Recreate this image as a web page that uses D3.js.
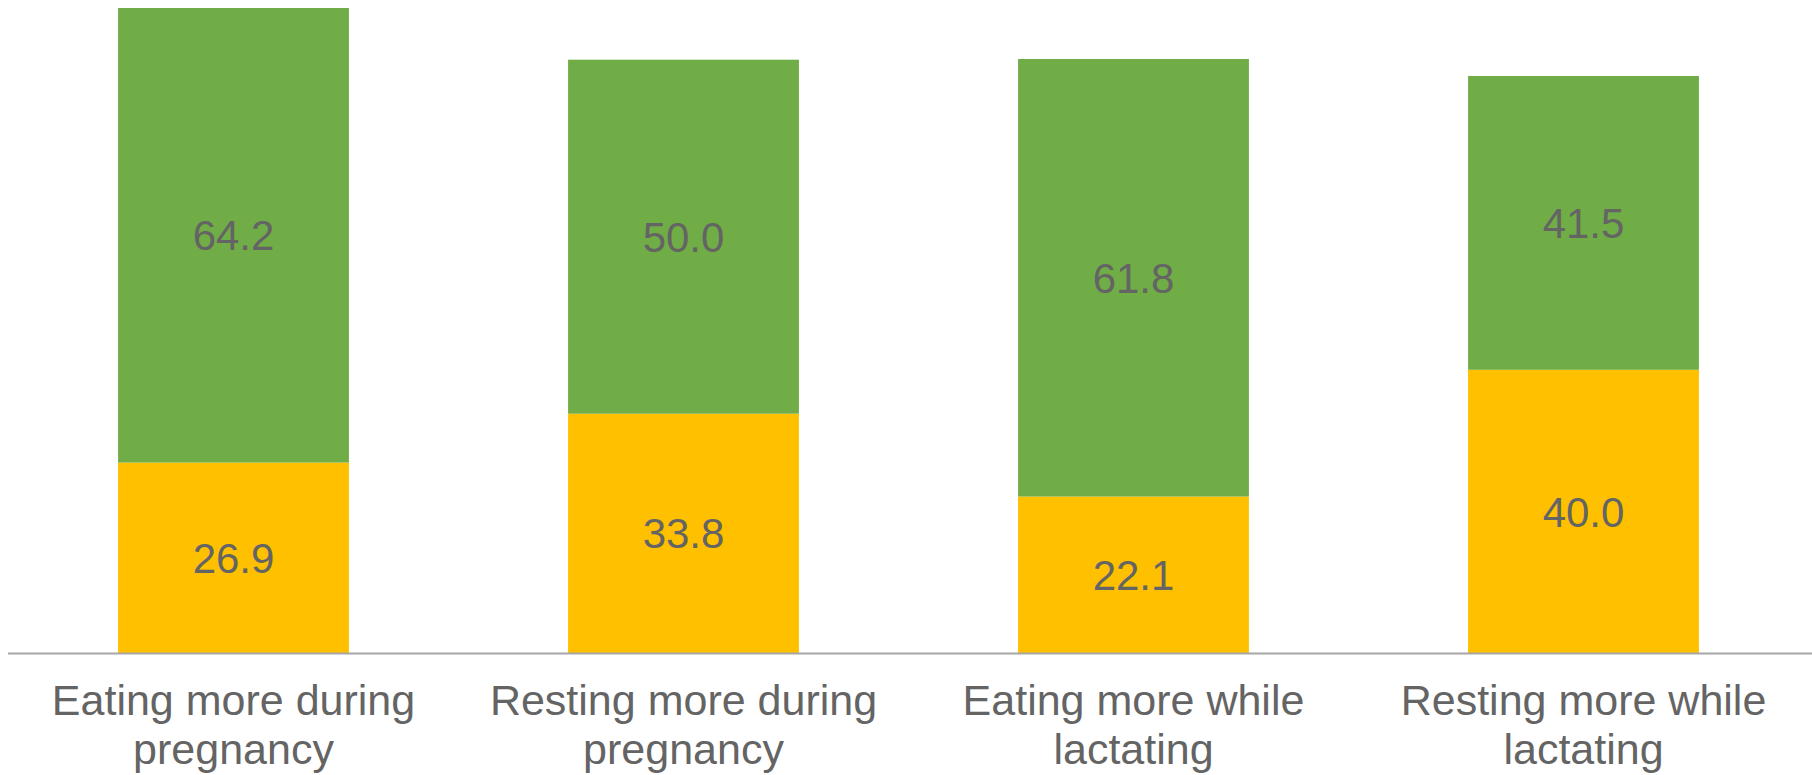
<!DOCTYPE html>
<html>
<head>
<meta charset="utf-8">
<script src="https://cdn.jsdelivr.net/npm/d3@7"></script>
<style>
  html, body { margin: 0; padding: 0; background: #ffffff; }
  svg { display: block; }
  text { font-family: "Liberation Sans", Arial, sans-serif; }
</style>
</head>
<body>
<svg id="chart" width="1812" height="775"></svg>
<script>
// Categories and stacked series values (percent)
const categories = [
  "Eating more during pregnancy",
  "Resting more during pregnancy",
  "Eating more while lactating",
  "Resting more while lactating"
];
const seriesNames = ["Lower", "Upper"];
const lowerValues = [26.9, 33.8, 22.1, 40.0];
const upperValues = [64.2, 50.0, 61.8, 41.5];
const seriesColors = ["#FFC000", "#70AD47"];

const width = 1812, height = 775;
const baseY = 653;
const svg = d3.select("#chart");

const rows = categories.map((c, i) => ({ category: c, Lower: lowerValues[i], Upper: upperValues[i] }));
const stacked = d3.stack().keys(seriesNames)(rows);

const x = d3.scaleBand()
  .domain(categories)
  .range([8.5, 1808.5])
  .paddingInner(0.487)
  .paddingOuter(0.2435);

const y = d3.scaleLinear()
  .domain([0, 100])
  .range([baseY, baseY - 708]);

const color = d3.scaleOrdinal().domain(seriesNames).range(seriesColors);

// Stacked bar segments
const layers = svg.append("g")
  .selectAll("g")
  .data(stacked)
  .join("g")
  .attr("fill", d => color(d.key));

layers.selectAll("rect")
  .data(d => d)
  .join("rect")
  .attr("x", d => x(d.data.category))
  .attr("width", x.bandwidth())
  .attr("y", d => y(d[1]))
  .attr("height", d => y(d[0]) - y(d[1]));

// Value labels centred in each segment
layers.selectAll("text")
  .data(d => d.map(v => ({ v, key: d.key })))
  .join("text")
  .attr("x", d => x(d.v.data.category) + x.bandwidth() / 2)
  .attr("y", d => (y(d.v[0]) + y(d.v[1])) / 2)
  .attr("dy", "0.36em")
  .attr("text-anchor", "middle")
  .attr("font-size", 42)
  .attr("fill", "#646464")
  .text(d => d3.format(".1f")(d.v.data[d.key]));

// Category axis along the baseline
const axis = svg.append("g")
  .attr("transform", `translate(0,${baseY})`)
  .call(d3.axisBottom(x).tickSize(0).tickSizeOuter(0).tickPadding(0));

axis.select(".domain")
  .attr("stroke", "#A6A6A6")
  .attr("stroke-width", 2)
  .attr("d", `M8,0.5H${width}`);

axis.selectAll(".tick text")
  .attr("font-size", 43)
  .attr("font-family", "\"Liberation Sans\", Arial, sans-serif")
  .attr("fill", "#646464")
  .attr("y", 0)
  .attr("dy", 0)
  .each(function(d) {
    const t = d3.select(this);
    const words = d.split(" ");
    t.text(null);
    let line = [];
    let lineNo = 0;
    let tspan = t.append("tspan").attr("x", 0).attr("y", 62);
    for (const w of words) {
      line.push(w);
      tspan.text(line.join(" "));
      if (tspan.node().getComputedTextLength() > 410 && line.length > 1) {
        line.pop();
        tspan.text(line.join(" "));
        line = [w];
        lineNo++;
        tspan = t.append("tspan").attr("x", 0).attr("y", 62 + lineNo * 49).text(w);
      }
    }
  });
</script>
</body>
</html>
